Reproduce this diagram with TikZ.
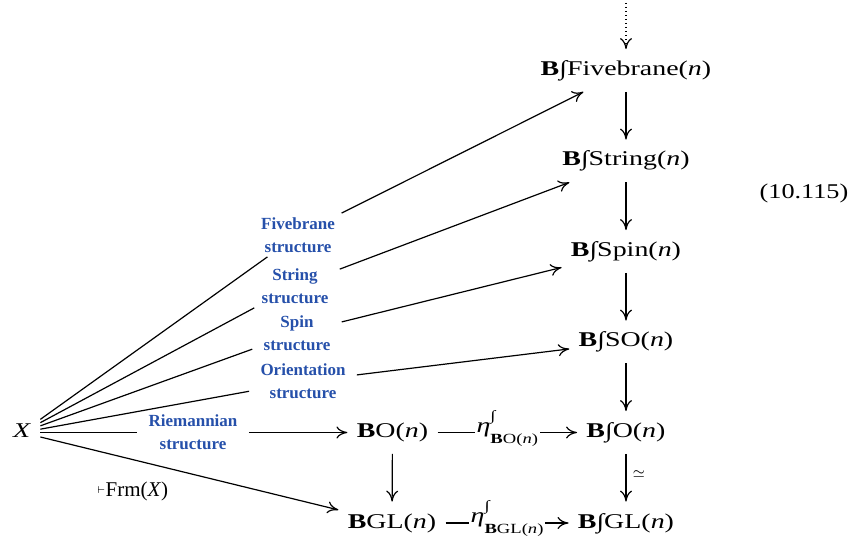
\documentclass[tikz,border=0pt]{standalone}
\usepackage{fontspec}
\setmainfont{Liberation Serif}
\usepackage{graphicx}
\usetikzlibrary{arrows.meta}
\definecolor{structblue}{RGB}{38,80,170}
% horizontally widened type for the diagram objects
\newcommand\wide[1]{\scalebox{1.33}[1]{#1}}
\newcommand\Bint{\textbf{B}∫}
\newcommand\argn{(\textit{n})}
% eta with a superscript integral and a subscript
\newcommand\etalbl[1]{\textit{η}\rlap{\raisebox{6pt}{\fontsize{7}{7}\selectfont ∫}}\raisebox{-5.5pt}{\fontsize{7}{7}\selectfont #1}}

\begin{document}
\begin{tikzpicture}[x=0.5pt,y=-0.5pt,
  obj/.style={font=\fontsize{10.5}{12}\selectfont, text height=7.5pt, text depth=2.5pt,
              inner xsep=4.5pt, inner ysep=5.5pt, anchor=base},
  struct/.style={font=\fontsize{8.5}{11.5}\selectfont\bfseries, text=structblue,
                 align=center, inner xsep=5.5pt, inner ysep=2pt},
  conn/.style={line width=0.6pt},
  map/.style={conn, -{To[length=5.5pt,width=6pt]}},
  eta/.style={fill=white, inner xsep=1pt, inner ysep=0pt, text height=5pt, text depth=5pt,
              font=\fontsize{10.5}{12}\selectfont},
]
\useasboundingbox (0,0) rectangle (853,540);

% the tower over B O(n)
\node[obj] (five) at (626,75.5)  {\wide{\Bint Fivebrane\argn}};
\node[obj] (str)  at (626,166)   {\wide{\Bint String\argn}};
\node[obj] (spin) at (626,256.5) {\wide{\Bint Spin\argn}};
\node[obj] (so)   at (626,347)   {\wide{\Bint SO\argn}};
\node[obj] (o)    at (626,437.5) {\wide{\Bint O\argn}};
\node[obj] (gl)   at (626,528)   {\wide{\Bint GL\argn}};
\node[obj] (bo)   at (392.5,437.5) {\wide{\textbf{B}O\argn}};
\node[obj] (bgl)  at (392,528)   {\wide{\textbf{B}GL\argn}};
\node[obj] (x)    at (22,437.5)  {\wide{\textit{X}}};
\node[obj] (eqno) at (804,199)   {\scalebox{1.25}[1]{(10.115)}};

% structure labels
\node[struct] (flab)  at (298,235)   {Fivebrane\\structure};
\node[struct] (slab)  at (295,286)   {String\\structure};
\node[struct] (splab) at (297,333)   {Spin\\structure};
\node[struct] (olab)  at (303,381.5) {Orientation\\structure};
\node[struct] (rlab)  at (193,432.5) {Riemannian\\structure};
\node[font=\fontsize{10.5}{12}\selectfont, anchor=base] (frm) at (132.5,496)
  {\raisebox{1.5pt}{$\scriptscriptstyle\vdash$}Frm(\textit{X})};

% vertical maps
\coordinate (top) at (626,3);
\draw[map, dash pattern=on 0.6pt off 1.4pt] (top) -- (five);
\draw[map] (five) -- (str);
\draw[map] (str) -- (spin);
\draw[map] (spin) -- (so);
\draw[map] (so) -- (o);
\draw[map] (o) -- node[right, inner sep=3pt, yshift=2pt, font=\fontsize{7}{7}\selectfont] {$\simeq$} (gl);
\draw[map] (bo) -- (bgl);

% unit maps
\draw[map] (bo) -- node[eta] {\wide{\etalbl{\textbf{B}O(\textit{n})}}} (o);
\draw[map] (bgl) -- node[eta] {\wide{\etalbl{\textbf{B}GL(\textit{n})}}} (gl);

% maps out of X through the structure labels
\draw[conn] (x) -- (flab);  \draw[map] (flab) -- (five);
\draw[conn] (x) -- (slab);  \draw[map] (slab) -- (str);
\draw[conn] (x) -- (splab); \draw[map] (splab) -- (spin);
\draw[conn] (x) -- (olab);  \draw[map] (olab) -- (so);
\draw[conn] (x) -- (rlab);  \draw[map] (rlab) -- (bo);
\draw[map] (x) -- (bgl);
\end{tikzpicture}
\end{document}
